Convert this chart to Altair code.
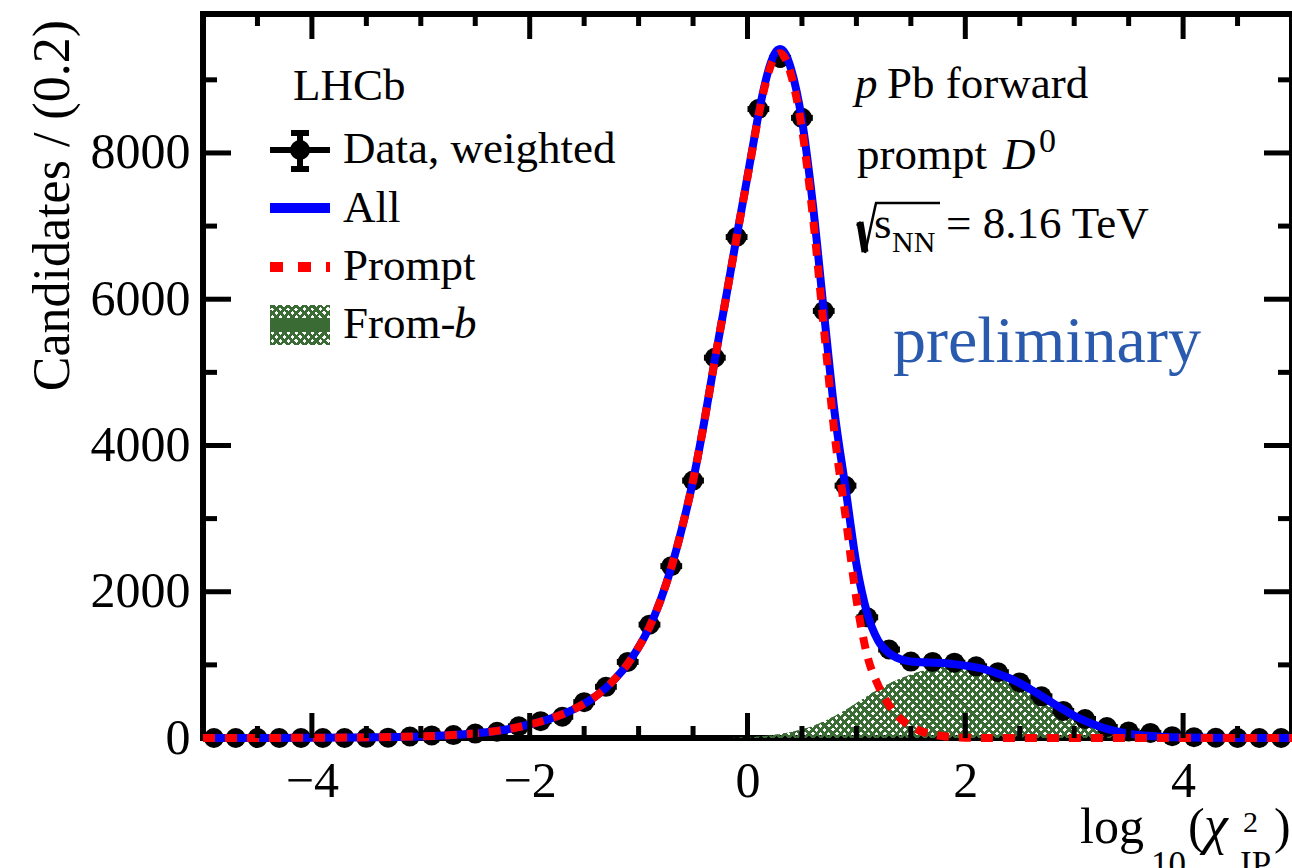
import altair as alt
import pandas as pd

# ---------------- data ----------------
bin_x = [-4.9, -4.7, -4.5, -4.3, -4.1, -3.9, -3.7, -3.5, -3.3, -3.1,
         -2.9, -2.7, -2.5, -2.3, -2.1, -1.9, -1.7, -1.5, -1.3, -1.1,
         -0.9, -0.7, -0.5, -0.3, -0.1, 0.1, 0.3, 0.5, 0.7, 0.9,
         1.1, 1.3, 1.5, 1.7, 1.9, 2.1, 2.3, 2.5, 2.7, 2.9,
         3.1, 3.3, 3.5, 3.7, 3.9, 4.1, 4.3, 4.5, 4.7, 4.9]
counts = [0, 0, 0, 0, 0, 0, 0, 2, 5, 20,
          35, 40, 60, 85, 160, 230, 290, 490, 700, 1040,
          1550, 2350, 3520, 5200, 6850, 8600, 9300, 8480, 5840, 3450,
          1650, 1210, 1045, 1040, 1030, 980, 900, 760, 570, 370,
          260, 150, 90, 70, 25, 10, 3, 0, 0, 0]
errors = [0, 0, 0, 0, 0, 0, 0, 2, 4, 6,
          8, 9, 11, 13, 18, 21, 24, 31, 37, 45,
          55, 68, 83, 99, 113, 127, 133, 126, 106, 82,
          57, 48, 44, 44, 44, 43, 41, 38, 33, 26,
          22, 17, 13, 11, 7, 4, 2, 0, 0, 0]

curve_x = [-5.0, -4.5, -4.0, -3.6, -3.2, -3.0, -2.8, -2.6, -2.4, -2.2,
           -2.0, -1.8, -1.6, -1.4, -1.3, -1.2, -1.1, -1.0, -0.9, -0.8,
           -0.7, -0.6, -0.5, -0.4, -0.3, -0.2, -0.1, 0.0, 0.05, 0.1,
           0.15, 0.2, 0.25, 0.3, 0.35, 0.4, 0.45, 0.5, 0.6, 0.7,
           0.8, 0.9, 1.0, 1.1, 1.2, 1.3, 1.4, 1.5, 1.6, 1.7,
           1.8, 1.9, 2.0, 2.1, 2.2, 2.3, 2.4, 2.5, 2.6, 2.7,
           2.8, 2.9, 3.0, 3.1, 3.2, 3.3, 3.4, 3.5, 3.6, 3.8,
           4.0, 4.5, 5.0]
all_fit = [0, 1, 3, 7, 15, 22, 33, 50, 78, 120,
           185, 270, 390, 565, 685, 835, 1015, 1240, 1520, 1880,
           2330, 2880, 3520, 4300, 5170, 6000, 6850, 7680, 8100, 8520,
           8880, 9170, 9360, 9420, 9350, 9150, 8850, 8450, 7300, 5850,
           4450, 3420, 2380, 1700, 1330, 1160, 1080, 1045, 1035, 1030,
           1025, 1010, 990, 965, 930, 880, 820, 750, 665, 575,
           480, 390, 305, 235, 175, 125, 88, 60, 40, 17,
           7, 1, 0]
prompt_fit = [0, 1, 3, 7, 15, 22, 33, 50, 78, 120,
              185, 270, 390, 565, 685, 835, 1015, 1240, 1520, 1880,
              2330, 2880, 3520, 4300, 5170, 6000, 6847, 7670, 8086, 8500,
              8853, 9135, 9315, 9364, 9282, 9068, 8752, 8332, 7135, 5625,
              4150, 3035, 1900, 1125, 720, 450, 270, 160, 90, 50,
              25, 12, 5, 2, 1, 0, 0, 0, 0, 0,
              0, 0, 0, 0, 0, 0, 0, 0, 0, 0,
              0, 0, 0]
fromb_fit = [0, 0, 0, 0, 0, 0, 0, 0, 0, 0,
             0, 0, 0, 0, 0, 0, 0, 0, 0, 0,
             0, 0, 0, 0, 0, 0, 3, 10, 14, 20,
             27, 35, 45, 56, 68, 82, 98, 118, 165, 225,
             300, 385, 480, 575, 665, 745, 815, 870, 915, 950,
             975, 985, 980, 960, 925, 876, 818, 749, 664, 575,
             480, 390, 305, 235, 175, 125, 88, 60, 40, 17,
             7, 1, 0]

x_major = [-4, -2, 0, 2, 4]
x_minor = [-4.5, -3.5, -3, -2.5, -1.5, -1, -0.5, 0.5, 1, 1.5, 2.5, 3, 3.5, 4.5]
y_major = [2000, 4000, 6000, 8000]
y_minor = [1000, 3000, 5000, 7000, 9000]
y_labels = [0, 2000, 4000, 6000, 8000]

# ---------------- layout / style ----------------
PL, PT, PW, PH = 203, 14, 1089, 724
SERIF = "Liberation Serif"
GREEN = "#3a6b35"
BLUE = "#0000ff"
RED = "#ff0000"

xs = alt.Scale(domain=[-5, 5], nice=False, zero=False)
ys = alt.Scale(domain=[0, 9900], nice=False, zero=False)
xaxis = alt.Axis(values=x_major, title=None, ticks=False, domain=False, grid=False,
                 labelFont=SERIF, labelFontSize=50, labelPadding=18,
                 labelColor="black", labelOverlap=False, labelFlush=False)
yaxis = alt.Axis(values=y_labels, title=None, ticks=False, domain=False, grid=False,
                 labelFont=SERIF, labelFontSize=50, labelPadding=13,
                 labelColor="black", labelOverlap=False, format="d")


def X(f):
    return alt.X(f, type="quantitative", scale=xs, axis=xaxis)


def Y(f):
    return alt.Y(f, type="quantitative", scale=ys, axis=yaxis)


def hatch(W, H, direction, p=8.0, gap=0.5, color=GREEN):
    r = H / W
    a = (1 + r) / (0.97 * (1 + r * r))
    b = a * r
    K = 1.0 / (a * W * (1 + r * r))
    dt = K * p
    clear = "rgba(255,255,255,0)"
    stops = []
    t = 0.0
    while t < 1.0:
        t1 = min(t + dt * (1 - gap), 1.0)
        t2 = min(t + dt, 1.0)
        stops += [alt.GradientStop(color=color, offset=round(t, 6)),
                  alt.GradientStop(color=color, offset=round(t1, 6)),
                  alt.GradientStop(color=clear, offset=round(t1, 6)),
                  alt.GradientStop(color=clear, offset=round(t2, 6))]
        t = t2
    if direction == "A":
        return alt.LinearGradient(gradient="linear", stops=stops, x1=0, y1=0, x2=a, y2=b)
    return alt.LinearGradient(gradient="linear", stops=stops, x1=0, y1=1, x2=a, y2=1 - b)


one = pd.DataFrame({"a": [0]})


def T(text, x, y, size=45, italic=False, color="black", align="left", angle=None):
    kw = dict(font=SERIF, fontSize=size, align=align, baseline="alphabetic", color=color)
    if italic:
        kw["fontStyle"] = "italic"
    if angle is not None:
        kw["angle"] = angle
    return alt.Chart(pd.DataFrame({"t": [text]})).mark_text(**kw).encode(
        x=alt.value(x - PL), y=alt.value(y - PT), text="t:N")


def R(x1, y1, x2, y2, color="black", w=6, dash=None):
    kw = dict(color=color, strokeWidth=w)
    if dash:
        kw["strokeDash"] = dash
    return alt.Chart(one).mark_rule(**kw).encode(
        x=alt.value(x1 - PL), y=alt.value(y1 - PT),
        x2=alt.value(x2 - PL), y2=alt.value(y2 - PT))


# ---------------- plot layers ----------------
cur = pd.DataFrame({"x": curve_x, "all": all_fit, "prompt": prompt_fit, "fromb": fromb_fit})
pts = pd.DataFrame({"x": bin_x, "n": counts, "e": errors})

area_h = max(fromb_fit) * PH / 9900.0
areaA = alt.Chart(cur).mark_area(fill=hatch(PW, area_h, "A"), opacity=1, interpolate="monotone").encode(
    x=X("x"), y=Y("fromb"))
areaB = alt.Chart(cur).mark_area(fill=hatch(PW, area_h, "B"), opacity=1, interpolate="monotone").encode(
    x=X("x"), y=Y("fromb"))

base = alt.Chart(pts).transform_calculate(
    lo="datum.x - 0.1", hi="datum.x + 0.1",
    ylo="datum.n - datum.e", yhi="datum.n + datum.e")
hbar = base.mark_rule(color="black", strokeWidth=6).encode(x=X("lo"), x2="hi:Q", y=Y("n"))
vbar = base.mark_rule(color="black", strokeWidth=6).encode(x=X("x"), y=Y("ylo"), y2="yhi:Q")
dots = base.mark_circle(color="black", size=400, opacity=1).encode(x=X("x"), y=Y("n"))

line_all = alt.Chart(cur).mark_line(color=BLUE, strokeWidth=8, interpolate="monotone").encode(
    x=X("x"), y=Y("all"))
line_prompt = alt.Chart(cur).mark_line(color=RED, strokeWidth=8, strokeDash=[12, 10],
                                       interpolate="monotone").encode(x=X("x"), y=Y("prompt"))


def xticks(vals, y0, y1):
    return alt.Chart(pd.DataFrame({"v": vals})).mark_rule(color="black", strokeWidth=5).encode(
        x=X("v"), y=alt.value(y0), y2=alt.value(y1))


def yticks(vals, x0, x1):
    return alt.Chart(pd.DataFrame({"v": vals})).mark_rule(color="black", strokeWidth=5).encode(
        y=Y("v"), x=alt.value(x0), x2=alt.value(x1))


ticks = [xticks(x_major, PH, PH - 25), xticks(x_minor, PH, PH - 12),
         xticks(x_major, 0, 25), xticks(x_minor, 0, 12),
         yticks(y_major, 0, 28), yticks(y_minor, 0, 14),
         yticks(y_major, PW, PW - 28), yticks(y_minor, PW, PW - 14)]

# ---------------- legend (top left) ----------------
legend = [
    T("LHCb", 293, 100),
    R(270, 150, 330, 150), R(300, 130, 300, 172),
    R(291, 133, 309, 133), R(291, 169, 309, 169),
    alt.Chart(one).mark_circle(color="black", opacity=1).encode(
        x=alt.value(300 - PL), y=alt.value(150 - PT), size=alt.value(400)),
    T("Data, weighted", 343, 163),
    R(270, 208, 330, 208, color=BLUE, w=10),
    T("All", 343, 222),
    R(270, 267, 330, 267, color=RED, w=10, dash=[13, 15]),
    T("Prompt", 343, 280),
    alt.Chart(one).mark_rect(fill=hatch(60, 40, "A"), opacity=1).encode(
        x=alt.value(270 - PL), x2=alt.value(330 - PL), y=alt.value(305 - PT), y2=alt.value(345 - PT)),
    alt.Chart(one).mark_rect(fill=hatch(60, 40, "B"), opacity=1).encode(
        x=alt.value(270 - PL), x2=alt.value(330 - PL), y=alt.value(305 - PT), y2=alt.value(345 - PT)),
    R(270, 325, 330, 325, color=GREEN, w=14),
    T("From-", 343, 338),
    T("b", 454, 338, italic=True),
]

# ---------------- annotations (top right) ----------------
notes = [
    T("p", 855, 98, italic=True),
    T("Pb forward", 887, 98),
    T("prompt", 857, 169),
    T("D", 1003, 169, italic=True),
    T("0", 1039, 152, size=34),
    R(860, 222, 865, 252, w=7),
    R(857, 226, 861, 222, w=3),
    R(865, 253, 876, 203, w=2.5),
    R(875, 203, 940, 203, w=2.5),
    T("s", 874, 238),
    T("NN", 892, 252, size=30),
    T("= 8.16 TeV", 946, 238),
    T("preliminary", 893, 362, size=66, color="#2a5aad"),
]

# ---------------- axis titles ----------------
titles = [
    T("Candidates / (0.2)", 69, 20, size=52, align="right", angle=270),
    T("log", 1080, 843, size=50),
    T("10", 1151, 876, size=35),
    T("(", 1188, 843, size=50),
    T("\u03c7", 1204, 843, size=54, italic=True),
    T("2", 1243, 832, size=30),
    T("IP", 1240, 876, size=35),
    T(")", 1274, 843, size=50),
]

chart = alt.layer(
    areaA, areaB, hbar, vbar, dots, line_all, line_prompt,
    *ticks, *legend, *notes, *titles
).properties(
    width=PW, height=PH,
    padding={"left": PL, "top": PT, "right": 0, "bottom": 868 - PT - PH},
    autosize=alt.AutoSizeParams(type="none"),
    background="white",
).configure_view(stroke="black", strokeWidth=6)

chart.save("out.html", embed_options={"renderer": "svg", "actions": False})
